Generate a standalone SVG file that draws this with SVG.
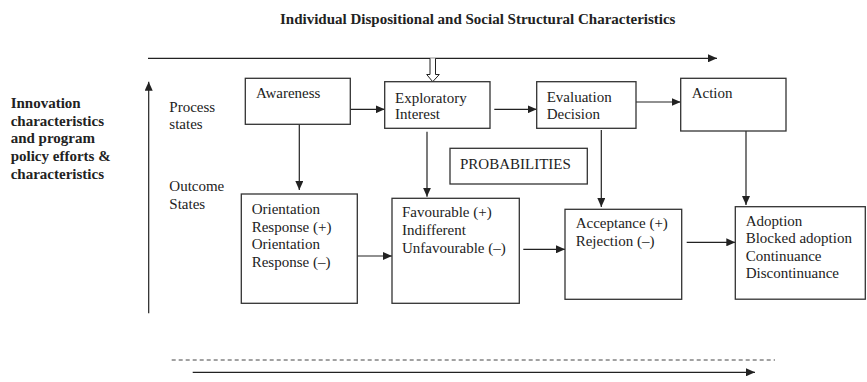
<svg xmlns="http://www.w3.org/2000/svg" width="867" height="382" viewBox="0 0 867 382">
<style>
.bx{fill:#fff;stroke:#333;stroke-width:1.3}
.t{font-family:"Liberation Serif","Times New Roman",serif;font-size:15px;fill:#222}
.b{font-family:"Liberation Serif","Times New Roman",serif;font-size:15px;font-weight:bold;fill:#222}
.ln{fill:none;stroke:#222;stroke-width:1.2}
</style>
<defs>
<marker id="ah" markerWidth="9" markerHeight="8" refX="9" refY="4" orient="auto" markerUnits="userSpaceOnUse">
<path d="M0,0 L9,4 L0,8 Z" fill="#222"/>
</marker>
</defs>
<rect width="867" height="382" fill="#fff"/>
<text class="b" x="280" y="24">Individual Dispositional and Social Structural Characteristics</text>
<g id="left-label">
<text class="b" x="10.7" y="107.7">Innovation</text>
<text class="b" x="10.7" y="125.5">characteristics</text>
<text class="b" x="10.7" y="143.3">and program</text>
<text class="b" x="10.7" y="161">policy efforts &amp;</text>
<text class="b" x="10.7" y="179">characteristics</text>
</g>
<g id="row-labels">
<text class="t" x="169.3" y="111.7">Process</text>
<text class="t" x="169.3" y="129">states</text>
<text class="t" x="169.3" y="191">Outcome</text>
<text class="t" x="169.3" y="208.5">States</text>
</g>
<g id="connectors">
<line class="ln" x1="148" y1="58.3" x2="717" y2="58.3" marker-end="url(#ah)"/>
<line class="ln" x1="148.7" y1="313.3" x2="148.7" y2="81.7" marker-end="url(#ah)"/>
<path d="M430,58.3 V74.5 H426.7 L432.7,81.7 L439.3,74.5 H435.5 V58.3" fill="#fff" stroke="#222" stroke-width="1"/>
<line class="ln" x1="350.3" y1="109.3" x2="384.7" y2="109.3" marker-end="url(#ah)"/>
<line class="ln" x1="494.3" y1="109.3" x2="536.7" y2="109.3" marker-end="url(#ah)"/>
<line class="ln" x1="636" y1="102" x2="680.7" y2="102" marker-end="url(#ah)"/>
<line class="ln" x1="299.3" y1="124.3" x2="299.3" y2="190" marker-end="url(#ah)"/>
<line class="ln" x1="427" y1="131.7" x2="427" y2="196.7" marker-end="url(#ah)"/>
<line class="ln" x1="601.3" y1="130" x2="601.3" y2="207" marker-end="url(#ah)"/>
<line class="ln" x1="746" y1="125" x2="746" y2="205" marker-end="url(#ah)"/>
<line class="ln" x1="357.3" y1="256" x2="392" y2="256" marker-end="url(#ah)"/>
<line class="ln" x1="523.3" y1="249.3" x2="565" y2="249.3" marker-end="url(#ah)"/>
<line class="ln" x1="686.7" y1="242.3" x2="735.3" y2="242.3" marker-end="url(#ah)"/>
<line x1="171.7" y1="360" x2="775" y2="360" stroke="#444" stroke-width="1" stroke-dasharray="4,3"/>
<line class="ln" x1="192.7" y1="372.3" x2="755" y2="372.3" marker-end="url(#ah)"/>
</g>
<g id="awareness">
<rect class="bx" x="245.3" y="78.3" width="105" height="46"/>
<text class="t" x="256" y="98">Awareness</text>
</g>
<g id="exploratory">
<rect class="bx" x="384.7" y="81.7" width="105.3" height="46.6"/>
<text class="t" x="395" y="102.7">Exploratory</text>
<text class="t" x="395" y="119.3">Interest</text>
</g>
<g id="evaluation">
<rect class="bx" x="536.7" y="81.7" width="99.3" height="46.6"/>
<text class="t" x="546.7" y="102">Evaluation</text>
<text class="t" x="546.7" y="119.3">Decision</text>
</g>
<g id="action">
<rect class="bx" x="680.7" y="78.3" width="105.3" height="52.7"/>
<text class="t" x="691.7" y="98.3">Action</text>
</g>
<g id="probabilities">
<rect class="bx" x="450" y="148.3" width="137.3" height="35.7"/>
<text class="t" x="460" y="169.3">PROBABILITIES</text>
</g>
<g id="orientation">
<rect class="bx" x="241.3" y="194" width="116" height="109.3"/>
<text class="t" x="251.7" y="214.3">Orientation</text>
<text class="t" x="251.7" y="231.7">Response (+)</text>
<text class="t" x="251.7" y="249">Orientation</text>
<text class="t" x="251.7" y="266.7">Response (–)</text>
</g>
<g id="favourable">
<rect class="bx" x="392" y="198.3" width="127.3" height="105"/>
<text class="t" x="402" y="217.3">Favourable (+)</text>
<text class="t" x="402" y="235">Indifferent</text>
<text class="t" x="402" y="252.7">Unfavourable (–)</text>
</g>
<g id="acceptance">
<rect class="bx" x="565" y="209.3" width="116.7" height="90"/>
<text class="t" x="575.7" y="228.3">Acceptance (+)</text>
<text class="t" x="575.7" y="246">Rejection (–)</text>
</g>
<g id="adoption">
<rect class="bx" x="735.3" y="206.7" width="130" height="92.5"/>
<text class="t" x="745.7" y="225.7">Adoption</text>
<text class="t" x="745.7" y="243.3">Blocked adoption</text>
<text class="t" x="745.7" y="260.8">Continuance</text>
<text class="t" x="745.7" y="278.3">Discontinuance</text>
</g>
</svg>
